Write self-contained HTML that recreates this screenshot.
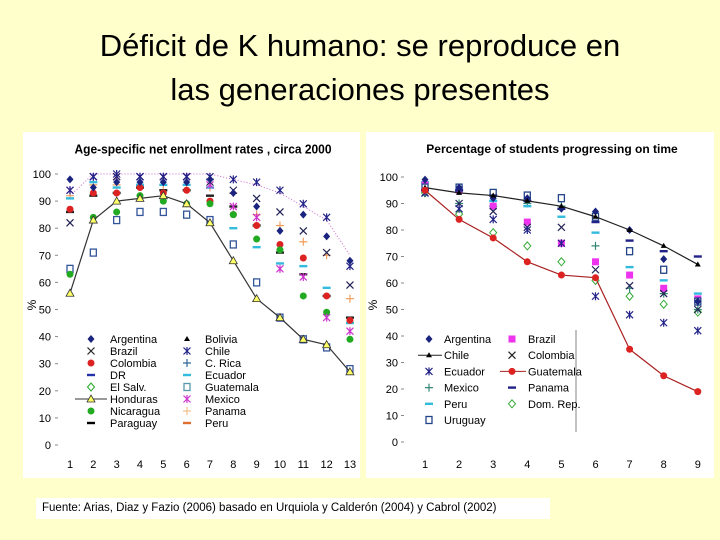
<!DOCTYPE html>
<html><head><meta charset="utf-8">
<style>
body{margin:0;width:720px;height:540px;background:#ffffcc;overflow:hidden;font-family:"Liberation Sans",sans-serif}
#t{position:absolute;left:0;top:24px;width:720px;text-align:center;font-size:31px;line-height:44px;color:#000}
#src{position:absolute;left:36px;top:498px;width:514px;height:21px;background:#fff;font-size:11.5px;line-height:21px;padding-left:6px;box-sizing:border-box}
svg{position:absolute;left:0;top:0}
</style></head><body>
<div id="t">Déficit de K humano: se reproduce en<br>las generaciones presentes</div>
<svg id="s" width="720" height="540"></svg>
<div id="src">Fuente: Arias, Diaz y Fazio (2006) basado en Urquiola y Calderón (2004) y Cabrol (2002)</div>
<script>
const leftAges=[1,2,3,4,5,6,7,8,9,10,11,12,13];
const leftTicks=[0,10,20,30,40,50,60,70,80,90,100];
const lHonduras=[56,83,90,91,92,89,82,68,54,47,39,37,27];
const lEnvelope=[92,100,100,100,100,100,100,98,96,93,88,83,70];
const lArgentina=[98,95,97,97,97,97,98,93,88,79,85,77,68];
const lBrazil=[82,99,99,99,99,99,97,94,91,86,79,71,59];
const lColombia=[87,93,93,95,93,94,90,85,81,74,69,55,46];
const lChile=[94,99,100,99,99,99,99,98,97,94,89,84,66];
const lGuatemala=[65,71,83,86,86,85,83,74,60,47,39,36,28];
const lNicaragua=[63,84,86,92,90,89,89,85,76,72,55,49,39];
const lMexico=[94,99,99,99,99,99,96,88,84,65,62,47,42];
const lPanama=[92,96,96,96,96,96,95,93,85,81,75,70,54];
const lEcuador=[91,97,95,96,96,96,95,80,73,67,66,58,45];
const lParaguay=[86,92,93,95,94,94,92,88,81,71,63,55,47];
const rGrades=[1,2,3,4,5,6,7,8,9];
const rChile=[96,94,93,91,89,85,80,74,67];
const rGuatemala=[95,84,77,68,63,62,35,25,19];
const rArgentina=[99,96,92,92,88,87,80,69,53];
const rBrazil=[97,95,89,83,75,68,63,58,54];
const rColombia=[94,90,87,81,81,65,59,56,50];
const rEcuador=[94,88,84,80,75,55,48,45,42];
const rUruguay=[96,96,94,93,92,85,72,65,53];
const rPeru=[98,95,91,89,85,79,66,61,56];
const rDomRep=[94,86,79,74,68,61,55,52,49];
const rMexico=[95,90,89,90,89,74,58,56,50];
const rPanama=[95,95,93,91,88,83,76,72,70];

const s=document.getElementById('s');const NS='http://www.w3.org/2000/svg';
function el(tag,at,txt){const e=document.createElementNS(NS,tag);for(const k in at)e.setAttribute(k,at[k]);if(txt!==undefined)e.textContent=txt;s.appendChild(e);return e;}
function marker(type,x,y,c){let e;
 if(type==='dia')e=el('polygon',{points:`${x},${y-4} ${x+3.5},${y} ${x},${y+4} ${x-3.5},${y}`,fill:c});
 else if(type==='odia')e=el('polygon',{points:`${x},${y-4} ${x+3.5},${y} ${x},${y+4} ${x-3.5},${y}`,fill:'#fff',stroke:c,'stroke-width':1});
 else if(type==='x')e=el('path',{d:`M${x-3.5} ${y-3.5}L${x+3.5} ${y+3.5}M${x+3.5} ${y-3.5}L${x-3.5} ${y+3.5}`,stroke:c,'stroke-width':1.2});
 else if(type==='ast')e=el('path',{d:`M${x-3.5} ${y-3.5}L${x+3.5} ${y+3.5}M${x+3.5} ${y-3.5}L${x-3.5} ${y+3.5}M${x} ${y-4}L${x} ${y+4}`,stroke:c,'stroke-width':1.2});
 else if(type==='plus')e=el('path',{d:`M${x-4} ${y}L${x+4} ${y}M${x} ${y-4}L${x} ${y+4}`,stroke:c,'stroke-width':1.2});
 else if(type==='dot')e=el('circle',{cx:x,cy:y,r:3.5,fill:c});
 else if(type==='sq')e=el('rect',{x:x-3,y:y-3.5,width:6,height:7,fill:'#fff',stroke:c,'stroke-width':1.3});
 else if(type==='fsq')e=el('rect',{x:x-3.5,y:y-3.5,width:7,height:7,fill:c});
 else if(type==='dash')e=el('rect',{x:x-4,y:y-1.2,width:8,height:2.4,fill:c});
 else if(type==='tri')e=el('polygon',{points:`${x},${y-4} ${x+4},${y+3} ${x-4},${y+3}`,fill:'#ffff66',stroke:'#333','stroke-width':0.8});
 else if(type==='btri')e=el('polygon',{points:`${x},${y-3} ${x+3},${y+2} ${x-3},${y+2}`,fill:'#000'});
 
 
 return e;}

// panels
const p1=el('rect',{x:23,y:132,width:337,height:346,fill:'#fff'});

const p2=el('rect',{x:366,y:132,width:348,height:346,fill:'#fff'});


// LEFT
const lx=a=>70+(a-1)*23.33, ly=v=>445-v*2.71;
el('text',{x:203,y:153,'font-size':12,'font-weight':'bold','text-anchor':'middle',transform:'scale(1,1.08) translate(0,-11)'},'Age-specific net enrollment rates , circa 2000');
leftTicks.forEach(t=>{el('text',{x:51,y:ly(t)+4,'font-size':11,'text-anchor':'end'},t);el('line',{x1:55,x2:58,y1:ly(t),y2:ly(t),stroke:'#888'});});
leftAges.forEach(a=>el('text',{x:lx(a),y:468,'font-size':11,'text-anchor':'middle'},a));
el('text',{x:36,y:305,'font-size':12,transform:'rotate(-90 36 305)','text-anchor':'middle'},'%');
el('polyline',{points:leftAges.map((a,i)=>lx(a)+','+ly(lEnvelope[i])).join(' '),fill:'none',stroke:'#cc66cc','stroke-width':1,'stroke-dasharray':'1,2'});
const lseries=[[lGuatemala,'sq','#335599'],[lPanama,'plus','#f0a060'],[lEcuador,'dash','#33bbdd'],[lParaguay,'dash','#222'],[lColombia,'dot','#dd2222'],[lNicaragua,'dot','#22aa22'],[lMexico,'ast','#cc33cc'],[lBrazil,'x','#222255'],[lChile,'ast','#222288'],[lArgentina,'dia','#1a237e']];
lseries.forEach(([d,t,c])=>d.forEach((v,i)=>marker(t,lx(leftAges[i]),ly(v),c)));
el('polyline',{points:leftAges.map((a,i)=>lx(a)+','+ly(lHonduras[i])).join(' '),fill:'none',stroke:'#333','stroke-width':1.2});
lHonduras.forEach((v,i)=>marker('tri',lx(leftAges[i]),ly(v)));
const lleg1=[['dia','#1a237e','Argentina'],['x','#222','Brazil'],['dot','#dd2222','Colombia'],['dash','#2233aa','DR'],['odia','#22aa22','El Salv.'],['tri','#333','Honduras'],['dot','#22aa22','Nicaragua'],['dash','#000','Paraguay']];
const lleg2=[['btri','#000','Bolivia'],['ast','#222288','Chile'],['plus','#336699','C. Rica'],['dash','#33bbdd','Ecuador'],['sq','#5599aa','Guatemala'],['ast','#cc33cc','Mexico'],['plus','#f0c090','Panama'],['dash','#e07030','Peru']];
lleg1.forEach(([t,c,n],i)=>{const y=339+i*12;if(t==='tri')el('line',{x1:75,x2:107,y1:y,y2:y,stroke:'#333'});marker(t,91,y,c);el('text',{x:110,y:y+4,'font-size':11},n);});
lleg2.forEach(([t,c,n],i)=>{const y=339+i*12;marker(t,187,y,c);el('text',{x:205,y:y+4,'font-size':11},n);});

// RIGHT
const rx=g=>425+(g-1)*34.1, ry=v=>442-v*2.65;
el('text',{x:552,y:153,'font-size':12,'font-weight':'bold','text-anchor':'middle'},'Percentage of students progressing on time');
leftTicks.forEach(t=>{el('text',{x:398,y:ry(t)+4,'font-size':11,'text-anchor':'end'},t);el('line',{x1:401,x2:404,y1:ry(t),y2:ry(t),stroke:'#888'});});
rGrades.forEach(g=>el('text',{x:rx(g),y:468,'font-size':11,'text-anchor':'middle'},g));
el('text',{x:377,y:305,'font-size':12,transform:'rotate(-90 377 305)','text-anchor':'middle'},'%');
el('line',{x1:576,x2:576,y1:330,y2:432,stroke:'#666','stroke-width':0.8});
const rseries=[[rDomRep,'odia','#33aa33'],[rMexico,'plus','#338877'],[rPeru,'dash','#33bbdd'],[rBrazil,'fsq','#ee33ee'],[rColombia,'x','#222255'],[rEcuador,'ast','#222288'],[rUruguay,'sq','#224488'],[rPanama,'dash','#222288'],[rArgentina,'dia','#1a237e']];
rseries.forEach(([d,t,c])=>d.forEach((v,i)=>marker(t,rx(rGrades[i]),ry(v),c)));
el('polyline',{points:rGrades.map((g,i)=>rx(g)+','+ry(rChile[i])).join(' '),fill:'none',stroke:'#222','stroke-width':1.2});
rChile.forEach((v,i)=>marker('btri',rx(rGrades[i]),ry(v),'#000'));
el('polyline',{points:rGrades.map((g,i)=>rx(g)+','+ry(rGuatemala[i])).join(' '),fill:'none',stroke:'#aa2222','stroke-width':1.2});
rGuatemala.forEach((v,i)=>marker('dot',rx(rGrades[i]),ry(v),'#dd2222'));
const rleg1=[['dia','#1a237e','Argentina'],['btri','#000','Chile'],['ast','#222288','Ecuador'],['plus','#338877','Mexico'],['dash','#33bbdd','Peru'],['sq','#224488','Uruguay']];
const rleg2=[['fsq','#ee33ee','Brazil'],['x','#222','Colombia'],['dot','#dd2222','Guatemala'],['dash','#222288','Panama'],['odia','#33aa33','Dom. Rep.']];
rleg1.forEach(([t,c,n],i)=>{const y=339+i*16.2;if(n==='Chile')el('line',{x1:418,x2:442,y1:y,y2:y,stroke:'#222'});marker(t,429,y,c);el('text',{x:444,y:y+4,'font-size':11},n);});
rleg2.forEach(([t,c,n],i)=>{const y=339+i*16.2;if(n==='Guatemala')el('line',{x1:500,x2:526,y1:y,y2:y,stroke:'#aa2222'});marker(t,512,y,c);el('text',{x:528,y:y+4,'font-size':11},n);});
</script>
</body></html>
